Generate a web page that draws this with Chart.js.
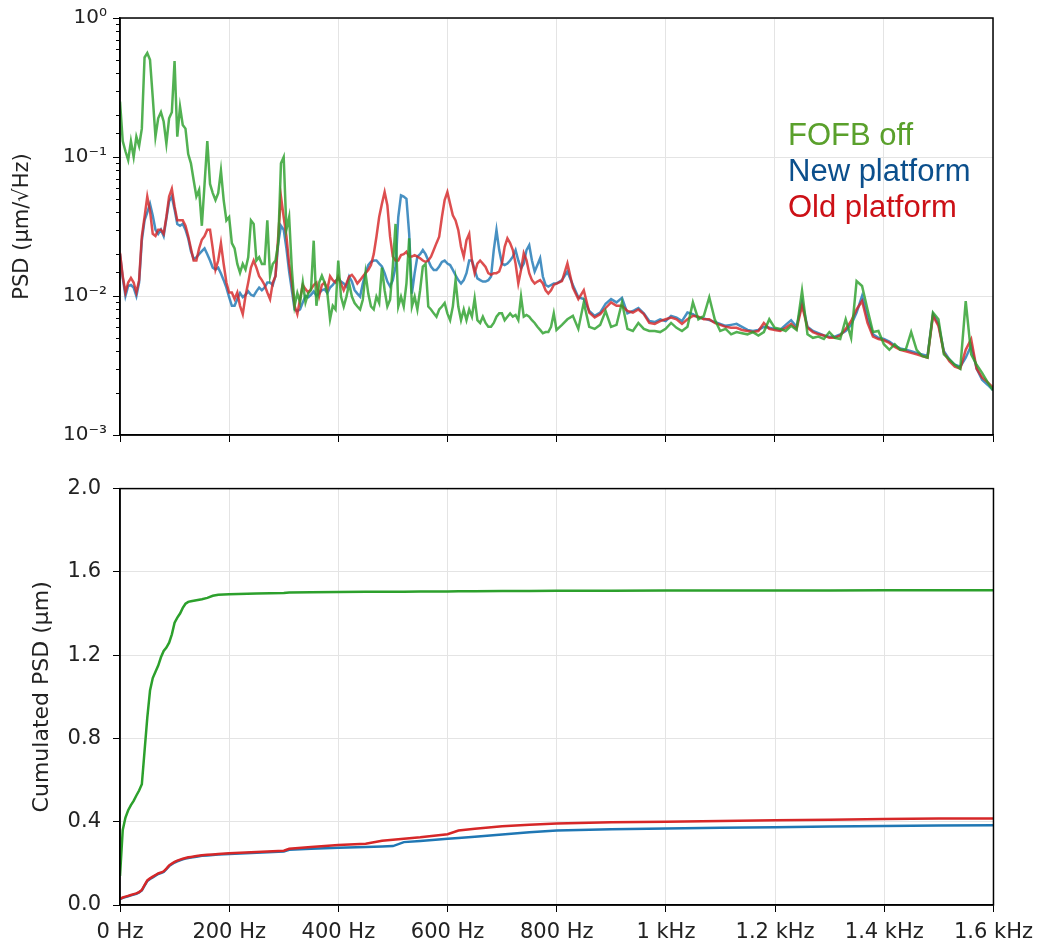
<!DOCTYPE html>
<html>
<head>
<meta charset="utf-8">
<script src="https://cdn.jsdelivr.net/npm/chart.js@4.4.1/dist/chart.umd.min.js"></script>
<style>
  html, body { margin: 0; padding: 0; background: #fff; }
  #wrap { position: relative; width: 1041px; height: 942px; }
  .panel { position: absolute; left: 0; width: 1041px; }
  #top { top: 0; height: 453px; }
  #bottom { top: 464px; height: 478px; }
</style>
</head>
<body>
<div id="wrap">
  <div class="panel" id="top"><canvas id="psdChart"></canvas></div>
  <div class="panel" id="bottom"><canvas id="cumChart"></canvas></div>
</div>
<script>
// frequency grid of the spectra (Hz): 5 Hz steps up to 800 Hz, 10 Hz above
const freqs = [
  0, 5, 10, 15, 20, 25, 30, 35, 40, 45, 50, 55, 60, 65, 70, 75, 80, 85, 90, 95,
  100, 105, 110, 115, 120, 125, 130, 135, 140, 145, 150, 155, 160, 165, 170, 175, 180, 185, 190, 195,
  200, 205, 210, 215, 220, 225, 230, 235, 240, 245, 250, 255, 260, 265, 270, 275, 280, 285, 290, 295,
  300, 305, 310, 315, 320, 325, 330, 335, 340, 345, 350, 355, 360, 365, 370, 375, 380, 385, 390, 395,
  400, 405, 410, 415, 420, 425, 430, 435, 440, 445, 450, 455, 460, 465, 470, 475, 480, 485, 490, 495,
  500, 505, 510, 515, 520, 525, 530, 535, 540, 545, 550, 555, 560, 565, 570, 575, 580, 585, 590, 595,
  600, 605, 610, 615, 620, 625, 630, 635, 640, 645, 650, 655, 660, 665, 670, 675, 680, 685, 690, 695,
  700, 705, 710, 715, 720, 725, 730, 735, 740, 745, 750, 755, 760, 765, 770, 775, 780, 785, 790, 795,
  800, 810, 820, 830, 840, 850, 860, 870, 880, 890, 900,
  910, 920, 930, 940, 950, 960, 970, 980, 990, 1000,
  1010, 1020, 1030, 1040, 1050, 1060, 1070, 1080, 1090, 1100,
  1110, 1120, 1130, 1140, 1150, 1160, 1170, 1180, 1190, 1200,
  1210, 1220, 1230, 1240, 1250, 1260, 1270, 1280, 1290, 1300,
  1310, 1320, 1330, 1340, 1350, 1360, 1370, 1380, 1390, 1400,
  1410, 1420, 1430, 1440, 1450, 1460, 1470, 1480, 1490, 1500,
  1510, 1520, 1530, 1540, 1550, 1560, 1570, 1580, 1590, 1600
];

// PSD, um/sqrt(Hz)
const psdFofbOff = [
  0.25, 0.13, 0.11, 0.095, 0.13, 0.10, 0.14, 0.12, 0.16, 0.52, 0.56, 0.50, 0.27, 0.14, 0.19, 0.21, 0.18, 0.125, 0.19, 0.21,
  0.49, 0.14, 0.23, 0.17, 0.16, 0.105, 0.09, 0.068, 0.052, 0.058, 0.032, 0.064, 0.13, 0.064, 0.055, 0.049, 0.055, 0.080, 0.049, 0.035,
  0.037, 0.024, 0.022, 0.017, 0.0147, 0.017, 0.0155, 0.019, 0.035, 0.033, 0.018, 0.019, 0.017, 0.017, 0.035, 0.014, 0.017, 0.018, 0.024, 0.09,
  0.10, 0.03, 0.037, 0.0155, 0.0085, 0.0105, 0.009, 0.0125, 0.009, 0.0105, 0.011, 0.025, 0.0085, 0.0125, 0.014, 0.0125, 0.0105, 0.0068, 0.0085, 0.0080,
  0.018, 0.0099, 0.0084, 0.0099, 0.0123, 0.0099, 0.0089, 0.0084, 0.008, 0.0094, 0.0146, 0.0104, 0.0084, 0.008, 0.0099, 0.0089, 0.016, 0.011, 0.0084, 0.0094,
  0.0163, 0.033, 0.0084, 0.0099, 0.0084, 0.0123, 0.026, 0.0084, 0.0099, 0.008, 0.011, 0.0163, 0.017, 0.0084, 0.008, 0.0075, 0.0071, 0.008, 0.0084, 0.0089,
  0.0075, 0.0067, 0.0084, 0.013, 0.0084, 0.0067, 0.008, 0.0067, 0.008, 0.0071, 0.0096, 0.0067, 0.0064, 0.0071, 0.0064, 0.006, 0.006, 0.0064, 0.0071, 0.0075,
  0.0075, 0.0067, 0.0071, 0.0075, 0.0071, 0.0073, 0.0067, 0.0099, 0.0071, 0.0073, 0.0071, 0.0067, 0.0064, 0.006, 0.0057, 0.0054, 0.0055, 0.0055, 0.006, 0.0075,
  0.0057, 0.0062, 0.0068, 0.0072, 0.0058, 0.009, 0.006, 0.0058, 0.0062, 0.0078, 0.006,
  0.0062, 0.009, 0.0058, 0.0056, 0.0064, 0.0058, 0.0056, 0.0056, 0.0055, 0.0058,
  0.0064, 0.0059, 0.0056, 0.006, 0.009, 0.0068, 0.0072, 0.0098, 0.0068, 0.0056,
  0.0058, 0.0053, 0.0055, 0.0054, 0.0053, 0.0055, 0.0052, 0.0055, 0.0068, 0.0059,
  0.0058, 0.0056, 0.0061, 0.0057, 0.0109, 0.0053, 0.005, 0.0051, 0.0049, 0.0055,
  0.005, 0.0049, 0.0068, 0.005, 0.0128, 0.0118, 0.008, 0.0055, 0.0056, 0.0045,
  0.0041, 0.0045, 0.0041, 0.0041, 0.0055, 0.0041, 0.0037, 0.0036, 0.0076, 0.0068,
  0.0038, 0.0035, 0.0032, 0.003, 0.0092, 0.0038, 0.0032, 0.0028, 0.0024, 0.0021
];

const psdNew = [
  0.020, 0.0135, 0.0100, 0.0118, 0.0120, 0.0115, 0.0100, 0.0125, 0.025, 0.035, 0.040, 0.046, 0.038, 0.030, 0.028, 0.030, 0.027, 0.036, 0.048, 0.052,
  0.042, 0.033, 0.032, 0.033, 0.030, 0.026, 0.021, 0.0185, 0.019, 0.020, 0.021, 0.022, 0.020, 0.018, 0.016, 0.0155, 0.016, 0.0145, 0.013, 0.0115,
  0.0098, 0.0085, 0.0085, 0.0095, 0.0105, 0.0098, 0.0102, 0.0108, 0.0102, 0.0100, 0.0108, 0.0115, 0.0110, 0.0115, 0.0125, 0.0125, 0.0120, 0.0140, 0.024, 0.032,
  0.030, 0.022, 0.015, 0.011, 0.0080, 0.0078, 0.0080, 0.0090, 0.0100, 0.0098, 0.0102, 0.0108, 0.0100, 0.0105, 0.011, 0.0112, 0.0105, 0.0115, 0.012, 0.0128,
  0.0134, 0.0127, 0.0123, 0.0117, 0.0138, 0.0127, 0.011, 0.0104, 0.0099, 0.0123, 0.0146, 0.0167, 0.0176, 0.018, 0.018, 0.0171, 0.0163, 0.0146, 0.0127, 0.0117,
  0.013, 0.0163, 0.037, 0.053, 0.052, 0.05, 0.028, 0.0104, 0.0146, 0.0192, 0.020, 0.0214, 0.020, 0.018, 0.0163, 0.0154, 0.0154, 0.0163, 0.0176, 0.018,
  0.0171, 0.0167, 0.0154, 0.0141, 0.013, 0.0123, 0.013, 0.0146, 0.018, 0.018, 0.0154, 0.0134, 0.013, 0.0127, 0.0127, 0.013, 0.0138, 0.0214, 0.0298, 0.0214,
  0.0171, 0.0167, 0.0171, 0.018, 0.0192, 0.0214, 0.018, 0.0158, 0.0171, 0.0214, 0.0232, 0.018, 0.015, 0.0167, 0.0187, 0.0138, 0.012, 0.0117, 0.012, 0.0123,
  0.0123, 0.013, 0.015, 0.012, 0.0098, 0.0095, 0.0078, 0.0072, 0.0076, 0.0088, 0.0095,
  0.009, 0.0097, 0.0075, 0.0078, 0.0082, 0.0075, 0.0066, 0.0065, 0.0068, 0.0066,
  0.0072, 0.007, 0.0066, 0.0076, 0.0074, 0.007, 0.0069, 0.0067, 0.0065, 0.0063,
  0.0061, 0.0062, 0.0063, 0.006, 0.0057, 0.0056, 0.0057, 0.006, 0.0059, 0.0058,
  0.0057, 0.0062, 0.0067, 0.006, 0.009, 0.006, 0.0056, 0.0054, 0.0052, 0.0051,
  0.0051, 0.0053, 0.0056, 0.0062, 0.0076, 0.01, 0.007, 0.0053, 0.005, 0.0049,
  0.0047, 0.0044, 0.0042, 0.0041, 0.004, 0.0039, 0.0038, 0.0037, 0.0074, 0.0063,
  0.004, 0.0035, 0.0032, 0.0031, 0.0036, 0.0044, 0.003, 0.0025, 0.0023, 0.0021
];

const psdOld = [
  0.0204, 0.0139, 0.0106, 0.0125, 0.0135, 0.0125, 0.0106, 0.013, 0.0268, 0.037, 0.052, 0.041, 0.028, 0.027, 0.030, 0.030, 0.028, 0.037, 0.052, 0.059,
  0.044, 0.035, 0.035, 0.035, 0.032, 0.027, 0.022, 0.018, 0.018, 0.022, 0.0254, 0.027, 0.030, 0.030, 0.022, 0.0155, 0.018, 0.024, 0.017, 0.0125,
  0.0106, 0.0106, 0.0095, 0.0106, 0.0085, 0.0074, 0.010, 0.0125, 0.016, 0.018, 0.016, 0.0139, 0.013, 0.012, 0.0106, 0.0095, 0.0125, 0.0139, 0.027, 0.052,
  0.037, 0.027, 0.017, 0.0125, 0.0085, 0.0074, 0.0095, 0.012, 0.0112, 0.0106, 0.0112, 0.012, 0.0125, 0.010, 0.012, 0.0125, 0.0112, 0.0139, 0.013, 0.0125,
  0.0138, 0.0123, 0.011, 0.0123, 0.0138, 0.0142, 0.0134, 0.0123, 0.013, 0.0138, 0.0146, 0.0154, 0.0167, 0.020, 0.0267, 0.037, 0.046, 0.056, 0.045, 0.0267,
  0.0192, 0.018, 0.018, 0.0197, 0.020, 0.0208, 0.0192, 0.0192, 0.0197, 0.0192, 0.0187, 0.018, 0.0176, 0.018, 0.0192, 0.0214, 0.024, 0.0267, 0.037, 0.049,
  0.056, 0.046, 0.038, 0.035, 0.0298, 0.0226, 0.0192, 0.0252, 0.028, 0.018, 0.0146, 0.0171, 0.018, 0.0171, 0.0162, 0.0146, 0.0142, 0.0146, 0.0146, 0.015,
  0.0171, 0.0226, 0.026, 0.024, 0.0214, 0.0171, 0.0123, 0.0154, 0.0203, 0.0181, 0.0146, 0.013, 0.0123, 0.0127, 0.013, 0.0123, 0.011, 0.0104, 0.011, 0.012,
  0.0123, 0.0128, 0.0172, 0.0115, 0.0095, 0.011, 0.0076, 0.007, 0.0074, 0.0082, 0.009,
  0.0085, 0.0085, 0.0078, 0.0076, 0.008, 0.0074, 0.0064, 0.0063, 0.0066, 0.0068,
  0.007, 0.0068, 0.0063, 0.0068, 0.0072, 0.0071, 0.0068, 0.0068, 0.0064, 0.0062,
  0.006, 0.0059, 0.0059, 0.0057, 0.0056, 0.0055, 0.0056, 0.0064, 0.0058, 0.0057,
  0.0056, 0.0059, 0.0063, 0.0058, 0.0085, 0.0059, 0.0055, 0.0053, 0.0052, 0.005,
  0.005, 0.0052, 0.0058, 0.0066, 0.008, 0.0092, 0.0064, 0.0051, 0.0049, 0.0048,
  0.0046, 0.0043, 0.0041, 0.004, 0.0039, 0.0038, 0.0037, 0.0036, 0.0072, 0.0061,
  0.0039, 0.0034, 0.0031, 0.003, 0.0041, 0.0049, 0.003, 0.0026, 0.0024, 0.0022
];

// cumulated PSD (um)
const cumFreqs = [
  0, 5, 10, 15, 20, 25, 30, 35, 40, 45, 50, 55, 60, 65, 70, 75, 80, 85, 90, 95, 100, 105, 110, 115, 120, 125, 130,
  140, 150, 160, 170, 180,
  200, 250, 300, 310, 350, 400, 450, 480, 500, 520, 550, 600, 620, 650, 700, 750, 800,
  900, 1000, 1100, 1200, 1300, 1400, 1500, 1600
];
const cumFofbOff = [
  0.14, 0.36, 0.42, 0.455, 0.48, 0.50, 0.526, 0.55, 0.58, 0.74, 0.90, 1.03, 1.09, 1.12, 1.15, 1.19, 1.22, 1.236, 1.26, 1.30, 1.356, 1.38, 1.40, 1.427, 1.447, 1.456, 1.459,
  1.464, 1.469, 1.475, 1.485, 1.49,
  1.493, 1.496, 1.499, 1.501, 1.502, 1.503, 1.504, 1.504, 1.505, 1.505, 1.506, 1.506, 1.507, 1.507, 1.508, 1.508, 1.509,
  1.509, 1.510, 1.510, 1.511, 1.511, 1.512, 1.512, 1.512
];
const cumNew = [
  0.028, 0.034, 0.038, 0.042, 0.046, 0.050, 0.054, 0.060, 0.070, 0.093, 0.115, 0.125, 0.133, 0.141, 0.149, 0.153, 0.159, 0.172, 0.187, 0.196, 0.204, 0.210, 0.215, 0.219, 0.223, 0.226, 0.228,
  0.232, 0.236, 0.238, 0.240, 0.242,
  0.245, 0.251, 0.257, 0.265, 0.270, 0.275, 0.279, 0.281, 0.283, 0.302, 0.307, 0.318, 0.322, 0.328, 0.339, 0.350, 0.358,
  0.364, 0.368, 0.371, 0.374, 0.377, 0.380, 0.382, 0.383
];
const cumOld = [
  0.030, 0.036, 0.040, 0.044, 0.048, 0.052, 0.056, 0.062, 0.072, 0.096, 0.118, 0.128, 0.136, 0.144, 0.152, 0.156, 0.162, 0.175, 0.190, 0.199, 0.207, 0.213, 0.218, 0.222, 0.226, 0.229, 0.231,
  0.235, 0.239, 0.241, 0.243, 0.245,
  0.248, 0.254, 0.261, 0.270, 0.279, 0.288, 0.294, 0.309, 0.313, 0.318, 0.325, 0.340, 0.358, 0.366, 0.378, 0.386, 0.392,
  0.397, 0.400, 0.404, 0.407, 0.410, 0.413, 0.415, 0.416
];

const xTickLabels = ['0 Hz', '200 Hz', '400 Hz', '600 Hz', '800 Hz', '1 kHz', '1.2 kHz', '1.4 kHz', '1.6 kHz'];
const psdTickValues = [0.001, 0.01, 0.1, 1];
const psdTickLabels = ['10\u207B\u00B3', '10\u207B\u00B2', '10\u207B\u00B9', '10\u2070'];
const cumTickLabels = ['0.0', '0.4', '0.8', '1.2', '1.6', '2.0'];

const seriesNames = ['FOFB off', 'New platform', 'Old platform'];
const lineColors = ['#2ca02c', '#1f77b4', '#d62728'];
const lineColorsSoft = ['rgba(44,160,44,0.82)', 'rgba(31,119,180,0.82)', 'rgba(214,39,40,0.82)'];
const labelColors = ['#5aa02c', '#0b4f8c', '#cc1016'];

const GRID = '#e4e4e4';
const FONT = "'DejaVu Sans', sans-serif";

function toPoints(xs, ys) {
  return xs.map((x, i) => ({ x: x, y: ys[i] }));
}

function isDecade(v) {
  const l = Math.log10(v);
  return Math.abs(l - Math.round(l)) < 1e-6;
}

// full box around the plot area, like the matplotlib spines
const frame = {
  id: 'frame',
  afterDraw(chart) {
    const { ctx, chartArea: a } = chart;
    ctx.save();
    ctx.strokeStyle = '#000';
    ctx.lineWidth = 1.5;
    ctx.strokeRect(a.left, a.top, a.right - a.left, a.bottom - a.top);
    ctx.restore();
  }
};

// short minor ticks on the log axis
const minorTicks = {
  id: 'minorTicks',
  afterDraw(chart) {
    const { ctx, chartArea: a } = chart;
    const y = chart.scales.y;
    ctx.save();
    ctx.strokeStyle = '#000';
    ctx.lineWidth = 1;
    ctx.beginPath();
    y.ticks.forEach(t => {
      if (isDecade(t.value)) return;
      const py = Math.round(y.getPixelForValue(t.value)) + 0.5;
      ctx.moveTo(a.left - 4, py);
      ctx.lineTo(a.left, py);
    });
    ctx.stroke();
    ctx.restore();
  }
};

// coloured series names in the upper right
const seriesText = {
  id: 'seriesText',
  afterDraw(chart) {
    const ctx = chart.ctx;
    ctx.save();
    ctx.font = "31px 'Liberation Sans', Arial, sans-serif";
    ctx.textAlign = 'left';
    ctx.textBaseline = 'alphabetic';
    seriesNames.forEach((name, i) => {
      ctx.fillStyle = labelColors[i];
      ctx.fillText(name, 788, 145 + i * 36);
    });
    ctx.restore();
  }
};

const psdChart = new Chart(document.getElementById('psdChart'), {
  type: 'line',
  data: {
    datasets: [
      { label: seriesNames[0], data: toPoints(freqs, psdFofbOff), borderColor: lineColorsSoft[0], order: 0 },
      { label: seriesNames[2], data: toPoints(freqs, psdOld), borderColor: lineColorsSoft[2], order: 1 },
      { label: seriesNames[1], data: toPoints(freqs, psdNew), borderColor: lineColorsSoft[1], order: 2 }
    ]
  },
  options: {
    responsive: true,
    maintainAspectRatio: false,
    animation: false,
    events: [],
    elements: {
      line: { borderWidth: 2.5, tension: 0, fill: false },
      point: { radius: 0 }
    },
    layout: { padding: { left: 0, right: 48, top: 6, bottom: 0 } },
    plugins: { legend: { display: false }, tooltip: { enabled: false } },
    scales: {
      x: {
        type: 'linear',
        min: 0,
        max: 1600,
        ticks: { stepSize: 200, display: false },
        grid: { color: GRID, tickColor: '#000', tickLength: 7, lineWidth: 1 },
        border: { color: '#000', width: 1.5 },
        afterFit(scale) { scale.height = 15; }
      },
      y: {
        type: 'logarithmic',
        min: 0.001,
        max: 1,
        ticks: {
          autoSkip: false,
          padding: 6,
          color: '#222',
          font: { family: FONT, size: 20 },
          callback(value) {
            const i = psdTickValues.findIndex(t => Math.abs(t - value) / t < 1e-6);
            return i >= 0 ? psdTickLabels[i] : '';
          }
        },
        grid: {
          color: ctx => (ctx.tick && isDecade(ctx.tick.value)) ? GRID : 'rgba(0,0,0,0)',
          tickColor: ctx => (ctx.tick && isDecade(ctx.tick.value)) ? '#000' : 'rgba(0,0,0,0)',
          tickLength: 7
        },
        border: { color: '#000', width: 1.5 },
        title: {
          display: true,
          text: 'PSD (\u00B5m/\u221AHz)',
          color: '#222',
          font: { family: FONT, size: 21 },
          padding: { top: 10, bottom: 0 }
        },
        afterFit(scale) { scale.width = 120; }
      }
    }
  },
  plugins: [frame, minorTicks, seriesText]
});

const cumChart = new Chart(document.getElementById('cumChart'), {
  type: 'line',
  data: {
    datasets: [
      { label: seriesNames[0], data: toPoints(cumFreqs, cumFofbOff), borderColor: lineColors[0], order: 0 },
      { label: seriesNames[2], data: toPoints(cumFreqs, cumOld), borderColor: lineColors[2], order: 1 },
      { label: seriesNames[1], data: toPoints(cumFreqs, cumNew), borderColor: lineColors[1], order: 2 }
    ]
  },
  options: {
    responsive: true,
    maintainAspectRatio: false,
    animation: false,
    events: [],
    elements: {
      line: { borderWidth: 2.5, tension: 0, fill: false },
      point: { radius: 0 }
    },
    layout: { padding: { left: 0, right: 10, top: 0, bottom: 0 } },
    plugins: { legend: { display: false }, tooltip: { enabled: false } },
    scales: {
      x: {
        type: 'linear',
        min: 0,
        max: 1600,
        ticks: {
          stepSize: 200,
          padding: 8,
          color: '#222',
          maxRotation: 0,
          autoSkip: false,
          font: { family: FONT, size: 21 },
          callback(value, index) { return xTickLabels[index]; }
        },
        grid: { color: GRID, tickColor: '#000', tickLength: 7 },
        border: { color: '#000', width: 1.5 },
        afterFit(scale) { scale.height = 37; }
      },
      y: {
        type: 'linear',
        min: 0,
        max: 2,
        ticks: {
          stepSize: 0.4,
          padding: 12,
          color: '#222',
          font: { family: FONT, size: 21 },
          callback(value, index) { return cumTickLabels[index]; }
        },
        grid: { color: GRID, tickColor: '#000', tickLength: 7 },
        border: { color: '#000', width: 1.5 },
        title: {
          display: true,
          text: 'Cumulated PSD (\u00B5m)',
          color: '#222',
          font: { family: FONT, size: 22 },
          padding: { top: 29, bottom: 0 }
        },
        afterFit(scale) { scale.width = 120; }
      }
    }
  },
  plugins: [frame]
});
</script>
</body>
</html>
